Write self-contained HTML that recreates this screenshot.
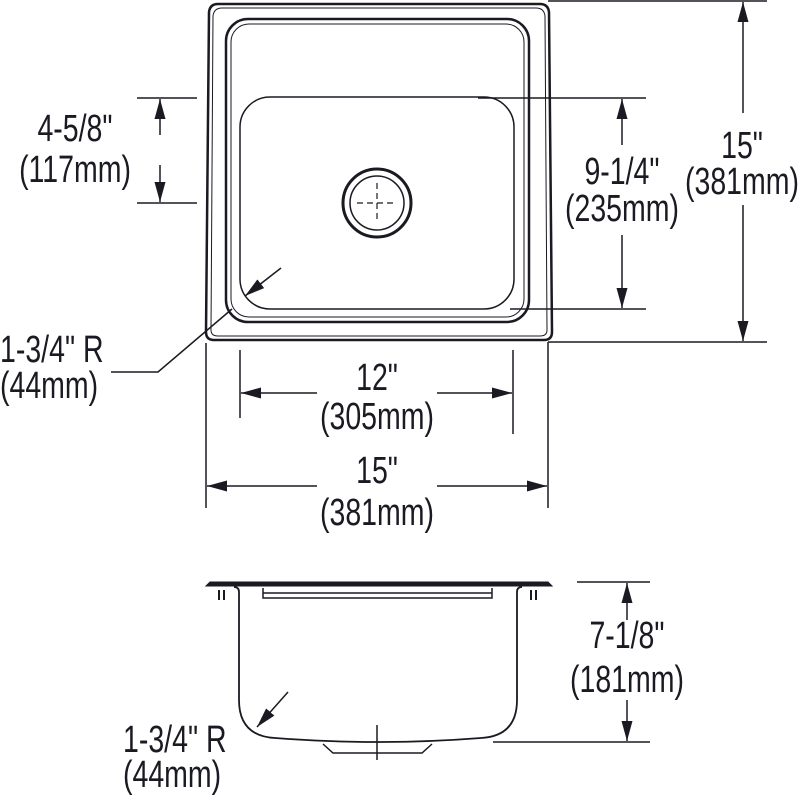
<!DOCTYPE html>
<html><head><meta charset="utf-8"><style>
html,body{margin:0;padding:0;background:#fff;}
svg{display:block;}
text{font-family:"Liberation Sans",Arial,sans-serif;font-size:38px;fill:#1a1a22;}
</style></head><body>
<svg width="800" height="796" viewBox="0 0 800 796" xmlns="http://www.w3.org/2000/svg">
<defs>
<marker id="a" viewBox="0 0 20 12" refX="20" refY="6" markerWidth="20" markerHeight="12" markerUnits="userSpaceOnUse" orient="auto">
<path d="M0,0.5 L20,6 L0,11.5 Z" fill="#1a1a22"/></marker>
</defs>
<g fill="none" stroke="#1a1a22">
<path d="M218,4 L540,4 Q548,4 549,12 L552,332 Q552,340 544,340 L214,340 Q206,340 206,332 L209,12 Q210,4 218,4 Z" stroke-width="2.5"/>
<path d="M222,8 L536,8 Q544,8 545,16 L547,330 Q547,336 540,336 L218,336 Q211,336 211,330 L213,16 Q214,8 222,8 Z" stroke-width="1"/>
<rect x="226" y="19" width="303" height="303" rx="22" stroke-width="2.5"/>
<rect x="231" y="24" width="293" height="293" rx="18" stroke-width="1"/>
<rect x="240" y="97" width="274" height="212" rx="30" stroke-width="1.5"/>
<circle cx="377" cy="203" r="34" stroke-width="3"/>
<circle cx="377" cy="203" r="27" stroke-width="1.5"/>
<path d="M357,203 H397 M377,183 V223" stroke-width="1.2" stroke-dasharray="6,4"/>
<path d="M137,98 H197 M137,203 H197" stroke-width="1.5"/>
<path d="M160,135 V99" stroke-width="1.5" marker-end="url(#a)"/>
<path d="M160,165 V202" stroke-width="1.5" marker-end="url(#a)"/>
<path d="M478,98 H646 M510,309 H646" stroke-width="1.5"/>
<path d="M622,145 V99" stroke-width="1.5" marker-end="url(#a)"/>
<path d="M622,235 V308" stroke-width="1.5" marker-end="url(#a)"/>
<path d="M548,1 H767 M548,342 H767 M548,342 V508" stroke-width="1.5"/>
<path d="M743,113 V2" stroke-width="1.5" marker-end="url(#a)"/>
<path d="M743,205 V341" stroke-width="1.5" marker-end="url(#a)"/>
<path d="M240,350 V418 M513,350 V434" stroke-width="1.5"/>
<path d="M317,393 H241" stroke-width="1.5" marker-end="url(#a)"/>
<path d="M437,393 H512" stroke-width="1.5" marker-end="url(#a)"/>
<path d="M206,343 V508" stroke-width="1.5"/>
<path d="M317,486 H207" stroke-width="1.5" marker-end="url(#a)"/>
<path d="M437,486 H547" stroke-width="1.5" marker-end="url(#a)"/>
<path d="M111,372 H158 L232,309" stroke-width="1.5"/>
<path d="M281,268 L245,296" stroke-width="1.5" marker-end="url(#a)"/>
<path d="M206,586 L210,582 H548 L552,586 Z" fill="#1a1a22" stroke-width="1"/>
<path d="M239,592 V700 Q239,736 275,738 Q330,742 377,742 Q430,742 481,738 Q517,736 517,700 V592 Q517,587 522,587" stroke-width="1.8"/>
<path d="M239,592 Q239,587 234,587" stroke-width="1.8"/>
<path d="M263,588 V598 H492 V588 M263,593 H492" stroke-width="1.5"/>
<path d="M323,744 L333,753 H422 L432,744" stroke-width="1.5"/>
<path d="M219,590 V600 M224,590 V600 M531,590 V600 M536,590 V600" stroke-width="2"/>
<path d="M377,725 V760" stroke-width="1.5"/>
<path d="M288,692 L257,727" stroke-width="1.5" marker-end="url(#a)"/>
<path d="M577,582 H650 M493,742 H650" stroke-width="1.5"/>
<path d="M627,620 V583" stroke-width="1.5" marker-end="url(#a)"/>
<path d="M627,700 V741" stroke-width="1.5" marker-end="url(#a)"/>
</g>
<g text-anchor="middle">
<text transform="translate(75,141) scale(0.75,1)">4-5/8"</text>
<text transform="translate(75,182) scale(0.75,1)">(117mm)</text>
<text transform="translate(622,184) scale(0.75,1)">9-1/4"</text>
<text transform="translate(622,221) scale(0.75,1)">(235mm)</text>
<text transform="translate(742,158) scale(0.75,1)">15"</text>
<text transform="translate(742,194) scale(0.75,1)">(381mm)</text>
<text transform="translate(377,390) scale(0.75,1)">12"</text>
<text transform="translate(377,429) scale(0.75,1)">(305mm)</text>
<text transform="translate(377,483) scale(0.75,1)">15"</text>
<text transform="translate(377,525) scale(0.75,1)">(381mm)</text>
<text transform="translate(627,648) scale(0.75,1)">7-1/8"</text>
<text transform="translate(627,692) scale(0.75,1)">(181mm)</text>
</g>
<g text-anchor="start">
<text transform="translate(0,362) scale(0.75,1)">1-3/4" R</text>
<text transform="translate(0,398) scale(0.75,1)">(44mm)</text>
<text transform="translate(123,752) scale(0.75,1)">1-3/4" R</text>
<text transform="translate(123,787) scale(0.75,1)">(44mm)</text>
</g>
</svg>
</body></html>
